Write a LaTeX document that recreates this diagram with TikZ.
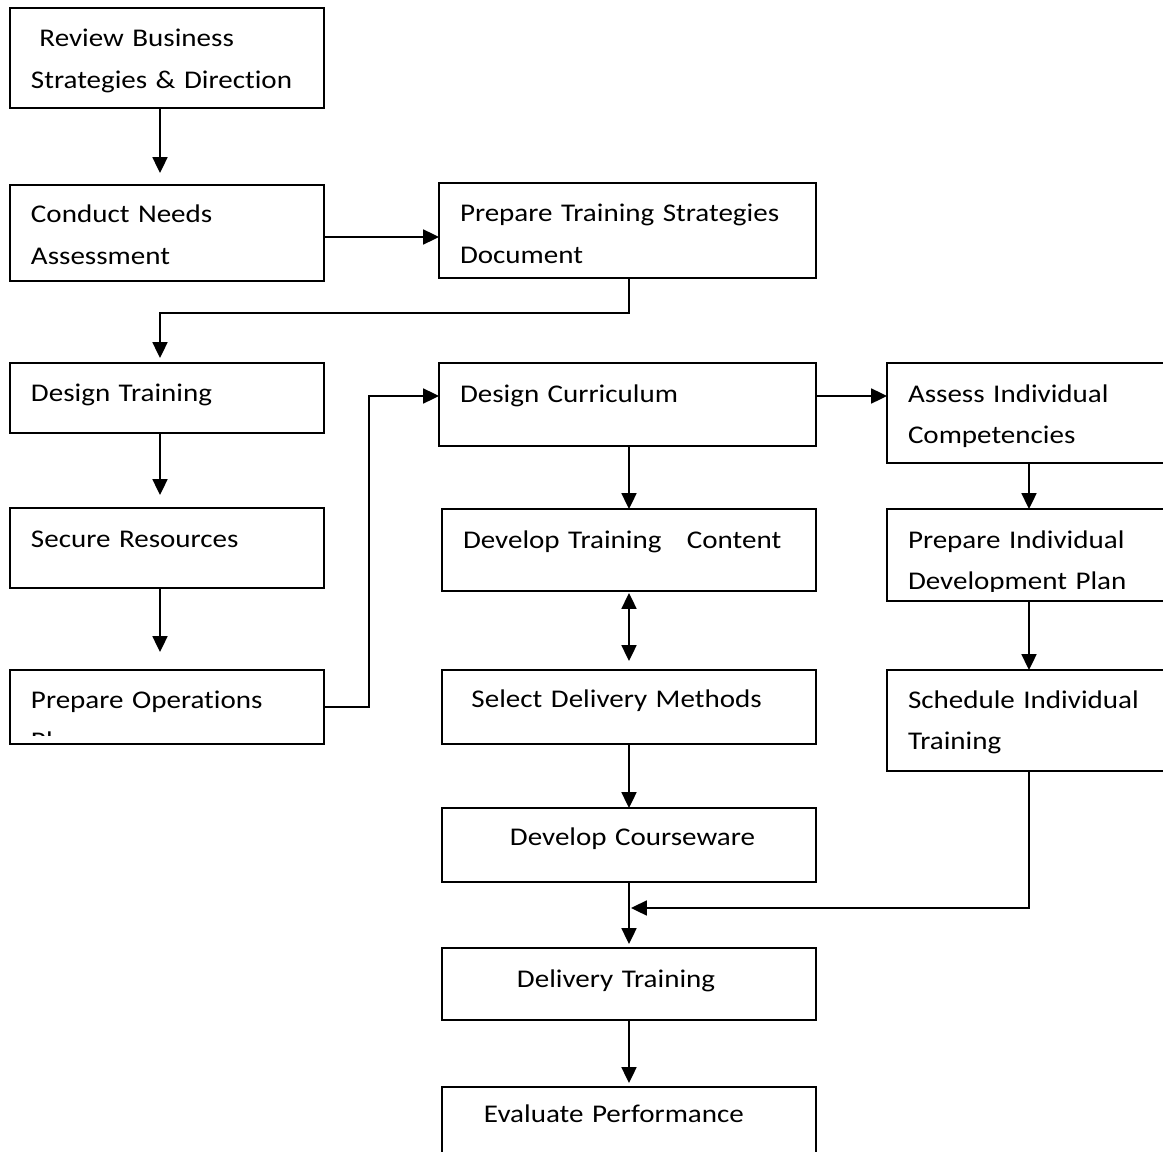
\documentclass[tikz,border=0pt]{standalone}
\usepackage{fontspec}
\setmainfont{Carlito}[FakeStretch=1.14, Ligatures=NoCommon]
\usetikzlibrary{arrows.meta}

\tikzset{
    box/.style n args={3}{draw, line width=0.8pt, outer sep=0pt, anchor=north west, align=left,
        inner xsep=0.42cm, inner ysep=0pt, text width=#1*0.02cm-0.84cm,
        text height=#3*0.02cm, text depth=#2*0.02cm-#3*0.02cm,
        font=\fontsize{14.5pt}{23.8pt}\selectfont},
    arr/.style={->, line width=1.1pt},
    >={Triangle[length=9pt,width=8.5pt]},
}

\begin{document}
\begin{tikzpicture}[x=0.02cm, y=-0.02cm]
    \useasboundingbox (0,0) rectangle (1163,1152);

    % left column
    \node[box={314}{100}{39}] (rev) at (10,8)   {\ Review Business\\Strategies \& Direction};
    \node[box={314}{96}{38}]  (cna) at (10,185) {Conduct Needs\\Assessment};
    \node[box={314}{70}{38}]  (dtr) at (10,363) {Design Training};
    \node[box={314}{80}{39}]  (sec) at (10,508) {Secure Resources};
    \begin{scope}
        \clip (0,660) rectangle (330,735);
        \node[box={314}{74}{38}, draw=none] (ops) at (10,670) {Prepare Operations\\Plan};
    \end{scope}
    \draw[line width=0.8pt] (ops.north west) rectangle (ops.south east);

    % middle column
    \node[box={377}{95}{39}]  (pts) at (439,183)  {Prepare Training Strategies\\Document};
    \node[box={377}{83}{39}]  (dcu) at (439,363)  {Design Curriculum};
    \node[box={374}{82}{39}]  (dtc) at (442,509)  {Develop Training\ \ \ Content};
    \node[box={374}{74}{37}]  (sdm) at (442,670)  {\ Select Delivery Methods};
    \node[box={374}{74}{37}]  (dcw) at (442,808)  {\hspace*{0.94cm}Develop Courseware};
    \node[box={374}{72}{39}]  (dlt) at (442,948)  {\hspace*{1.08cm}Delivery Training};
    \node[box={374}{80}{35}]  (evp) at (442,1087) {\hspace*{0.42cm}Evaluate Performance};

    % right column
    \node[box={300}{100}{39}] (aic) at (887,363) {Assess Individual\\Competencies};
    \begin{scope}
        \clip (877,499) rectangle (1200,591);
        \node[box={300}{92}{39}, draw=none] (idp) at (887,509) {Prepare Individual\\Development Plan};
    \end{scope}
    \draw[line width=0.8pt] (idp.north west) rectangle (idp.south east);
    \node[box={300}{101}{38}] (sit) at (887,670) {Schedule Individual\\Training};

    \coordinate (colL) at (160,0);
    \coordinate (colM) at (629,0);
    \coordinate (colR) at (1029,0);
    \coordinate (join) at (629,908);

    % connectors
    \draw[arr, shorten >=0.24cm] (rev.south -| colL) -- (cna.north -| colL);
    \draw[arr] ([yshift=-0.08cm]cna.east) -- ([yshift=-0.08cm]cna.east -| pts.west);
    \draw[arr, shorten >=0.1cm] (pts.south -| colM) -- ++(0,35) -| (dtr.north -| colL);
    \draw[arr, shorten >=0.26cm] (dtr.south -| colL) -- (sec.north -| colL);
    \draw[arr, shorten >=0.36cm] (sec.south -| colL) -- (ops.north -| colL);
    \draw[arr] (ops.east) -- ++(45,0) |- (dcu.west |- 0,396);
    \draw[arr] (dcu.east |- 0,396) -- (aic.west |- 0,396);
    \draw[arr] (dcu.south -| colM) -- (dtc.north -| colM);
    \draw[<->, line width=1.1pt, shorten <=0.04cm, shorten >=0.18cm] (dtc.south -| colM) -- (sdm.north -| colM);
    \draw[arr] (sdm.south -| colM) -- (dcw.north -| colM);
    \draw[arr, shorten >=0.08cm] (dcw.south -| colM) -- (dlt.north -| colM);
    \draw[arr, shorten >=0.08cm] (dlt.south -| colM) -- (evp.north -| colM);
    \draw[arr] (aic.south -| colR) -- (idp.north -| colR);
    \draw[arr] (idp.south -| colR) -- (sit.north -| colR);
    \draw[arr, shorten >=0.04cm] (sit.south -| colR) |- (join);
\end{tikzpicture}
\end{document}
